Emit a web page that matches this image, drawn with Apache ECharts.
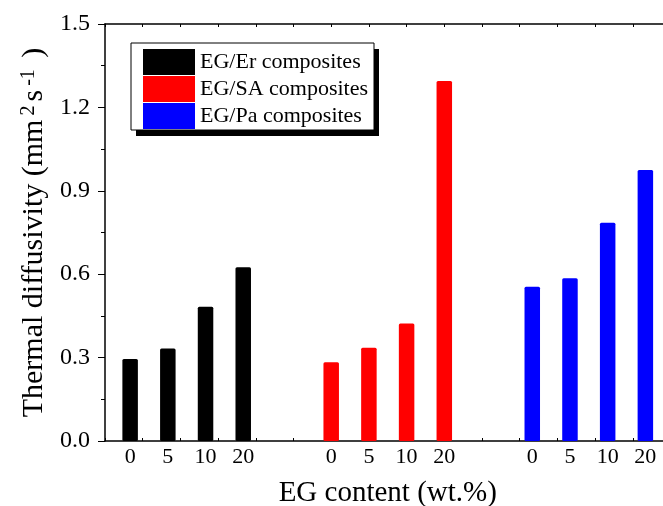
<!DOCTYPE html>
<html><head><meta charset="utf-8">
<script src="https://cdn.jsdelivr.net/npm/echarts@6/dist/echarts.min.js"></script>
<style>html,body{margin:0;padding:0;background:#fff}#c{width:663px;height:506px}</style>
</head><body><div id="c"></div>
<script>
// ---- data ----
const contents = ['0', '5', '10', '20'];           // EG content (wt.%) tick labels
const seriesNames = ['EG/Er composites', 'EG/SA composites', 'EG/Pa composites'];
const erValues = [0.295, 0.333, 0.483, 0.625];
const saValues = [0.283, 0.335, 0.423, 1.295];
const paValues = [0.555, 0.585, 0.785, 0.975];
const yMin = 0, yMax = 1.5, yStep = 0.3;

// ---- layout of the category slots ----
const SLOTS = 46, groupStart = [2, 18, 34], slotStep = 3;
const colors = ['#000000', '#ff0000', '#0000ff'];
const FONT = "'Liberation Serif', 'Times New Roman', serif";

const categories = new Array(SLOTS).fill('');
groupStart.forEach(s => contents.forEach((c, j) => { categories[s + j * slotStep] = c; }));
const allValues = [erValues, saValues, paValues];
const series = allValues.map((vals, g) => {
  const d = new Array(SLOTS).fill('-');
  vals.forEach((v, j) => { d[groupStart[g] + j * slotStep] = v; });
  return {
    name: seriesNames[g], type: 'bar', data: d, barWidth: 15.5, barGap: '-100%',
    itemStyle: { color: colors[g], borderRadius: 1.5 }
  };
});
const tickFn = (i) => i % 3 === 0;
const gridW = 565.5;

const chart = echarts.init(document.getElementById('c'), null, { renderer: 'canvas' });
chart.setOption({
  animation: false,
  backgroundColor: '#fff',
  textStyle: { fontFamily: FONT, color: '#000' },
  grid: { left: 105, top: 24, width: gridW, height: 417, containLabel: false, outerBoundsMode: 'none' },
  graphic: [
    { type: 'rect', z: 1, shape: { x: 136, y: 49, width: 243, height: 87 }, style: { fill: '#000' } },
    { type: 'rect', z: 1, shape: { x: 131, y: 43, width: 243, height: 87 }, style: { fill: '#fff', stroke: '#000', lineWidth: 1 } }
  ],
  legend: {
    data: seriesNames, orient: 'vertical', left: 143, top: 49, z: 10,
    itemWidth: 52, itemHeight: 26, itemGap: 1, padding: 0,
    icon: 'rect', selectedMode: false,
    textStyle: { fontSize: 22, fontFamily: FONT, color: '#000' }
  },
  xAxis: [{
    type: 'category', data: categories, boundaryGap: false, position: 'bottom',
    axisLine: { onZero: false, lineStyle: { color: '#000', width: 1.5 } },
    axisTick: { show: true, inside: true, length: 3, interval: tickFn, lineStyle: { color: '#000' } },
    axisLabel: { interval: 0, margin: 5, fontSize: 22, fontFamily: FONT, color: '#000' },
    splitLine: { show: false },
    name: 'EG content (wt.%)', nameLocation: 'middle', nameGap: 38,
    nameTextStyle: { fontSize: 29, fontFamily: FONT, color: '#000' }
  }, {
    type: 'category', data: categories, boundaryGap: false, position: 'top',
    axisLine: { onZero: false, lineStyle: { color: '#000', width: 1.5 } },
    axisTick: { show: true, inside: true, length: 3, interval: tickFn, lineStyle: { color: '#000' } },
    axisLabel: { show: false }, splitLine: { show: false }
  }],
  yAxis: [{
    type: 'value', min: yMin, max: yMax, interval: yStep, position: 'left',
    axisLine: { show: true, lineStyle: { color: '#000', width: 1.5 } },
    axisTick: { show: true, inside: false, length: 7, lineStyle: { color: '#000' } },
    axisLabel: { margin: 15, fontSize: 24, fontFamily: FONT, color: '#000', formatter: v => v.toFixed(1) },
    splitLine: { show: false },
    name: 'Thermal diffusivity (mm{sup|2}s{sup|-1} )', nameLocation: 'middle', nameGap: 50, nameRotate: 90,
    nameTextStyle: {
      fontSize: 30, fontFamily: FONT, color: '#000',
      rich: { sup: { fontSize: 20, fontFamily: FONT, color: '#000', verticalAlign: 'top', padding: [0, 4, 0, 4] } }
    }
  }, {
    type: 'value', min: yMin, max: yMax, interval: yStep, position: 'right', offset: -gridW,
    axisLine: { show: false },
    axisTick: { show: true, inside: true, length: 5, lineStyle: { color: '#000' } },
    minorTick: { show: true, splitNumber: 2, length: 4, lineStyle: { color: '#000' } },
    axisLabel: { show: false }, splitLine: { show: false }, minorSplitLine: { show: false }
  }],
  series: series
});
</script>
</body></html>
